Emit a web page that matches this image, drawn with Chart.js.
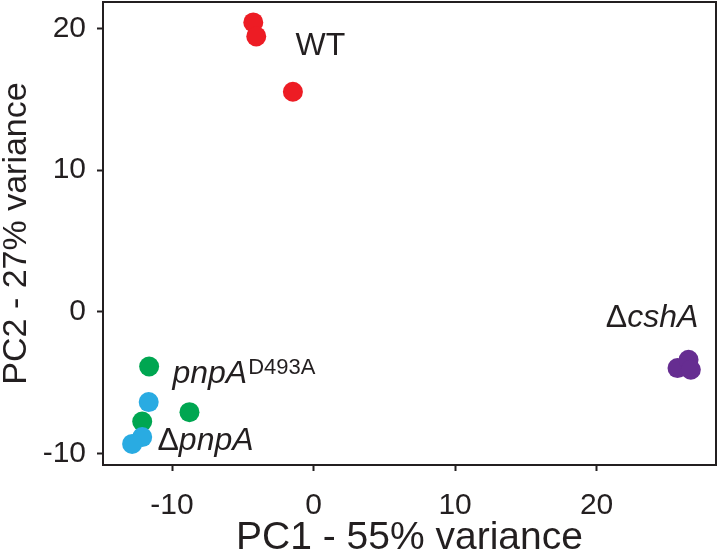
<!DOCTYPE html>
<html>
<head>
<meta charset="utf-8">
<script src="https://cdn.jsdelivr.net/npm/chart.js@4.4.0/dist/chart.umd.min.js"></script>
<style>
  html, body { margin: 0; padding: 0; background: #ffffff; }
</style>
</head>
<body>
<canvas id="pca" width="720" height="558"></canvas>
<script>
const wtX = [-4.26, -4.05, -1.46];
const wtY = [20.42, 19.43, 15.53];
const cshaX = [25.72, 26.5, 26.66];
const cshaY = [-3.97, -3.39, -4.09];
const d493aX = [-11.62, -8.77, -12.11];
const d493aY = [-3.86, -7.08, -7.74];
const pnpaX = [-11.65, -12.11, -12.82];
const pnpaY = [-6.37, -8.84, -9.32];

// Etiquetas de los grupos (posicion en unidades de los ejes)
const labelText = ['WT', 'ΔcshA', 'pnpA', 'ΔpnpA'];
const labelSup = ['', '', 'D493A', ''];
const labelItalic = [false, true, true, true];
const labelX = [-1.27, 20.65, -9.97, -11.03];
const labelY = [18.14, -1.06, -5.01, -9.74];

// Ejes
const xMin = -14.88, xMax = 28.44;
const yMin = -10.81, yMax = 21.86;
const tickStep = 10;

const colorTexto = '#231f20';
const familia = '"Liberation Sans", Arial, sans-serif';

Chart.defaults.font.family = familia;

function puntos(xs, ys) {
    return xs.map((x, i) => ({ x: x, y: ys[i] }));
}

// Plugin para las etiquetas y el marco
const etiquetas = {
    id: 'etiquetas',
    afterDatasetsDraw(chart) {
        const ctx = chart.ctx;
        const sx = chart.scales.x;
        const sy = chart.scales.y;
        ctx.save();
        ctx.fillStyle = colorTexto;
        ctx.textAlign = 'left';
        ctx.textBaseline = 'alphabetic';
        labelText.forEach((t, i) => {
            let x = sx.getPixelForValue(labelX[i]);
            const y = sy.getPixelForValue(labelY[i]);
            let resto = t;
            if (t.startsWith('Δ')) {
                ctx.font = '32px ' + familia;
                ctx.fillText('Δ', x, y);
                x += ctx.measureText('Δ').width;
                resto = t.slice(1);
            }
            ctx.font = (labelItalic[i] ? 'italic ' : '') + '32px ' + familia;
            ctx.fillText(resto, x, y);
            x += ctx.measureText(resto).width;
            if (labelSup[i]) {
                ctx.font = '22px ' + familia;
                ctx.fillText(labelSup[i], x + 1, y - 9);
            }
        });
        const a = chart.chartArea;
        ctx.strokeStyle = colorTexto;
        ctx.lineWidth = 2;
        ctx.strokeRect(a.left, a.top, a.right - a.left, a.bottom - a.top);
        ctx.restore();
    }
};

const ejeComun = {
    type: 'linear',
    border: { display: false },
    grid: {
        drawOnChartArea: false,
        drawTicks: true,
        tickLength: 6,
        tickWidth: 2,
        tickColor: colorTexto
    }
};

new Chart(document.getElementById('pca').getContext('2d'), {
    type: 'scatter',
    data: {
        datasets: [
            { label: 'ΔpnpA', data: puntos(pnpaX, pnpaY), backgroundColor: '#29abe2' },
            { label: 'pnpA D493A', data: puntos(d493aX, d493aY), backgroundColor: '#00a651' },
            { label: 'WT', data: puntos(wtX, wtY), backgroundColor: '#ed1c24' },
            { label: 'ΔcshA', data: puntos(cshaX, cshaY), backgroundColor: '#662d91' }
        ]
    },
    options: {
        responsive: false,
        animation: false,
        elements: { point: { radius: 10, borderWidth: 0, hoverRadius: 10 } },
        layout: { autoPadding: false, padding: { top: 2, right: 4, left: 0, bottom: 0 } },
        plugins: { legend: { display: false }, tooltip: { enabled: false } },
        scales: {
            x: Object.assign({}, ejeComun, {
                min: xMin,
                max: xMax,
                ticks: { stepSize: tickStep, includeBounds: false, color: colorTexto, font: { size: 30 }, padding: 17 },
                title: { display: true, text: 'PC1 - 55% variance', color: colorTexto, font: { size: 39, lineHeight: 1 }, padding: 0 },
                afterFit(s) { s.height = 93; s.paddingLeft = 0; s.paddingRight = 0; }
            }),
            y: Object.assign({}, ejeComun, {
                min: yMin,
                max: yMax,
                ticks: { stepSize: tickStep, includeBounds: false, color: colorTexto, font: { size: 30 }, padding: 11 },
                title: { display: true, text: 'PC2 - 27% variance', color: colorTexto, font: { size: 34, lineHeight: 1 }, padding: 0 },
                afterFit(s) { s.width = 103; s.paddingTop = 0; s.paddingBottom = 0; }
            })
        }
    },
    plugins: [etiquetas]
});
</script>
</body>
</html>
